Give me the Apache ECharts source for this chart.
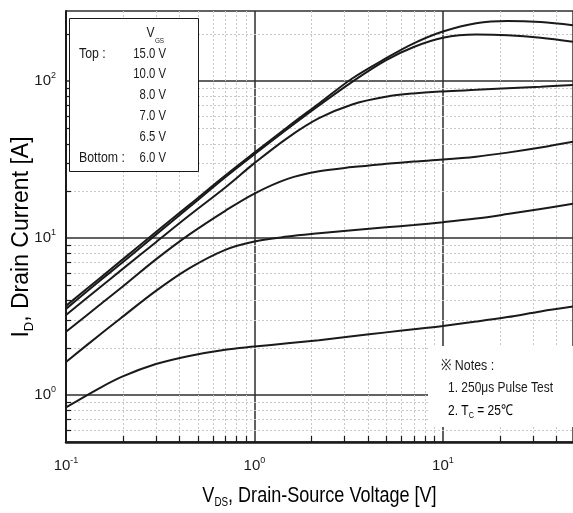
<!DOCTYPE html>
<html><head><meta charset="utf-8">
<script src="https://cdn.jsdelivr.net/npm/echarts@6/dist/echarts.min.js"></script>
<style>html,body{margin:0;padding:0;background:#fff}#c{width:573px;height:513px}</style>
</head><body><div id="c"></div>
<script>
// ---- data ----
const vds   = [0.1, 0.15, 0.2, 0.3, 0.45, 0.7, 1, 1.5, 2.2, 3.3, 5, 7, 10, 15, 22, 33, 49];
const id15  = [3.69, 5.5, 7.3, 10.9, 16.2, 25, 35, 51, 72, 104, 140, 174, 207, 234, 242, 238, 227];
const id10  = [3.53, 5.3, 7.0, 10.5, 15.7, 24.4, 34.2, 49.7, 70, 99, 136, 165, 189, 198, 196, 189, 178];
const id8   = [3.23, 4.8, 6.35, 9.4, 13.9, 21, 30, 43.5, 58, 71, 79.5, 83.5, 86, 88, 90, 92, 94.5];
const id7   = [2.52, 3.72, 4.9, 7.3, 10.5, 14.9, 19.2, 23.8, 26.6, 28.3, 29.7, 30.7, 31.6, 33, 35, 37.7, 41];
const id65  = [1.62, 2.4, 3.15, 4.6, 6.4, 8.4, 9.5, 10.2, 10.7, 11.2, 11.7, 12.1, 12.6, 13.3, 14.2, 15.3, 16.5];
const id6   = [0.83, 1.1, 1.31, 1.57, 1.77, 1.94, 2.03, 2.13, 2.23, 2.36, 2.5, 2.62, 2.75, 2.93, 3.13, 3.4, 3.65];
const vgsLabels = ['15.0 V', '10.0 V', '8.0 V', '7.0 V', '6.5 V', '6.0 V'];
const xMinorTicks = [0.2,0.3,0.4,0.5,0.6,0.7,0.8,0.9, 2,3,4,5,6,7,8,9, 20,30,40];
const yMinorTicks = [0.6,0.7,0.8,0.9, 2,3,4,5,6,7,8,9, 20,30,40,50,60,70,80,90, 200];
const xRange = [0.1, 49];
const yRange = [0.5, 280];

const FONT = "'Liberation Sans',Arial,sans-serif";
const INK = '#1a1a1a';
const SQ = 0.8; // horizontal squeeze to mimic the narrow typeface

const curves = [id15, id10, id8, id7, id65, id6];

function powLabel(v) {
  const l = Math.log10(v);
  const e = Math.round(l);
  if (Math.abs(l - e) > 1e-6) return '';
  return '{b|10}{s|' + e + '}';
}
const labelRich = {
  b: { fontSize: 15, fontFamily: FONT, color: INK, lineHeight: 20 },
  s: { fontSize: 9, fontFamily: FONT, color: INK, lineHeight: 8, verticalAlign: 'top' }
};

const minorData = xMinorTicks.map(v => [v, 1, 0]).concat(yMinorTicks.map(v => [1, v, 1]));

function txt(x, y, text, size, align, extra) {
  return Object.assign({ type: 'text', z: 101, x: x, y: y, scaleX: SQ,
    style: { text: text, fontSize: size, fontFamily: FONT, fill: INK, align: align, verticalAlign: 'middle' } }, extra || {});
}

const chart = echarts.init(document.getElementById('c'), null, { renderer: 'canvas' });
chart.setOption({
  animation: false,
  backgroundColor: '#fff',
  grid: { left: 66, right: 0, top: 11, bottom: 71, show: false },
  xAxis: {
    type: 'log', logBase: 10, min: xRange[0], max: xRange[1],
    axisLine: { show: true, onZero: false, lineStyle: { color: INK, width: 2.5 } },
    axisTick: { show: false },
    axisLabel: { formatter: powLabel, rich: labelRich, margin: 14, showMinLabel: true, showMaxLabel: false },
    splitLine: { show: true, lineStyle: { color: '#2e2e2e', width: 1.5 } },
    minorTick: { show: false }, minorSplitLine: { show: false }
  },
  yAxis: {
    type: 'log', logBase: 10, min: yRange[0], max: yRange[1],
    axisLine: { show: true, onZero: false, lineStyle: { color: INK, width: 2 } },
    axisTick: { show: false },
    axisLabel: { formatter: powLabel, rich: labelRich, margin: 10, showMinLabel: false, showMaxLabel: false },
    splitLine: { show: true, lineStyle: { color: '#2e2e2e', width: 1.5 } },
    minorTick: { show: false }, minorSplitLine: { show: false }
  },
  series: [
    {
      type: 'custom', z: 1, silent: true,
      data: minorData,
      renderItem(params, api) {
        const cs = params.coordSys;
        const p = api.coord([api.value(0), api.value(1)]);
        if (api.value(2) === 0) {
          const x = Math.round(p[0]) + 0.5;
          return { type: 'group', children: [
            { type: 'line', shape: { x1: x, y1: cs.y, x2: x, y2: cs.y + cs.height }, style: { stroke: '#c8c8c8', lineWidth: 1, lineDash: [2, 2] } },
            { type: 'line', shape: { x1: x, y1: cs.y + cs.height, x2: x, y2: cs.y + cs.height - 6 }, style: { stroke: INK, lineWidth: 1.2 } }
          ] };
        }
        const y = Math.round(p[1]) + 0.5;
        return { type: 'group', children: [
          { type: 'line', shape: { x1: cs.x, y1: y, x2: cs.x + cs.width, y2: y }, style: { stroke: '#c8c8c8', lineWidth: 1, lineDash: [2, 2] } },
          { type: 'line', shape: { x1: cs.x, y1: y, x2: cs.x + 5, y2: y }, style: { stroke: INK, lineWidth: 1.2 } }
        ] };
      }
    }
  ].concat(curves.map((c, k) => ({
    type: 'line', name: vgsLabels[k], z: 5,
    data: vds.map((x, i) => [x, c[i]]),
    showSymbol: false, smooth: 0.35,
    lineStyle: { color: INK, width: 2 }
  }))),
  graphic: [
    // legend box
    { type: 'rect', z: 100, shape: { x: 69.5, y: 18.5, width: 129, height: 153 }, style: { fill: '#fff', stroke: INK, lineWidth: 1 } },
    txt(150.5, 33, 'V', 15, 'center'),
    txt(159.5, 40.5, 'GS', 8, 'center'),
    txt(79, 53.5, 'Top :', 14.5, 'left', { scaleX: 0.85 }),
    txt(79, 157.5, 'Bottom :', 14.5, 'left', { scaleX: 0.85 })
  ].concat(vgsLabels.map((t, i) => txt(166, 53.5 + i * 20.8, t, 14.5, 'right', { scaleX: 0.78 }))).concat([
    // notes box
    { type: 'rect', z: 100, shape: { x: 428, y: 346, width: 150, height: 81 }, style: { fill: '#fff' } },
    txt(441, 366, '※ Notes :', 15.5, 'left'),
    txt(448, 388, '1. 250μs Pulse Test', 15, 'left'),
    { type: 'text', z: 101, x: 448, y: 411, scaleX: SQ, style: {
      text: '{a|2. T}{s|C}{a| = 25℃}', align: 'left', verticalAlign: 'middle',
      rich: { a: { fontSize: 15, fontFamily: FONT, color: INK, lineHeight: 18 }, s: { fontSize: 9, fontFamily: FONT, color: INK, lineHeight: 8, verticalAlign: 'bottom' } }
    } },
    // axis titles
    { type: 'text', z: 101, x: 319.5, y: 496, scaleX: 0.82, style: {
      text: '{a|V}{s|DS}{a|, Drain-Source Voltage [V]}', align: 'center', verticalAlign: 'middle',
      rich: { a: { fontSize: 22, fontFamily: FONT, color: INK, lineHeight: 26 }, s: { fontSize: 12, fontFamily: FONT, color: INK, lineHeight: 10, verticalAlign: 'bottom' } }
    } },
    { type: 'group', z: 101, x: 22, y: 237, rotation: Math.PI / 2, children: [
      { type: 'text', z: 101, style: {
        text: '{a|I}{s|D}{a|, Drain Current [A]}', align: 'center', verticalAlign: 'middle',
        rich: { a: { fontSize: 23, fontFamily: FONT, color: INK, lineHeight: 28 }, s: { fontSize: 13, fontFamily: FONT, color: INK, lineHeight: 12, verticalAlign: 'bottom' } }
      } }
    ] }
  ])
});
</script>
</body></html>
